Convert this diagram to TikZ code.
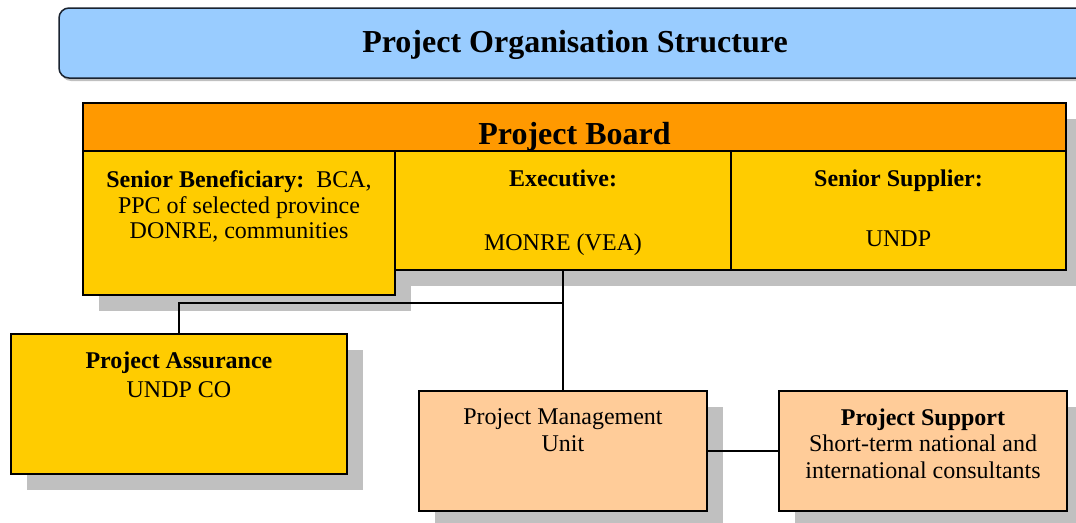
\documentclass[tikz,border=0pt]{standalone}
\usepackage{fontspec}
\setmainfont{Liberation Serif}
\definecolor{titleblue}{HTML}{99CCFF}
\definecolor{boardorange}{HTML}{FF9900}
\definecolor{gold}{HTML}{FFCC00}
\definecolor{peach}{HTML}{FFCC99}
\definecolor{shade}{HTML}{C0C0C0}
\definecolor{titleedge}{HTML}{1A2330}
\begin{document}
\begin{tikzpicture}[x=1pt,y=-1pt,
  box/.style={draw=black, line width=1.5pt, rectangle, inner sep=0pt, outer sep=0pt},
  shd/.style={fill=shade, draw=none},
  txt/.style={align=center, inner sep=0pt, font=\fontsize{24}{#1}\selectfont},
  txt/.default=27,
  bigtxt/.style={inner sep=0pt, font=\fontsize{32}{38}\selectfont\bfseries},
  link/.style={draw=black, line width=1.6pt}]
\clip (0,0) rectangle (1076,522);
\fill[white] (0,0) rectangle (1076,522);
% shadows
\fill[shd, rounded corners=10pt] (61,10) rectangle (1110,81);
\fill[shd] (99,119) rectangle (1082,286);
\fill[shd] (99,167) rectangle (411,311);
\fill[shd] (27,350) rectangle (363,490);
\fill[shd] (435,407) rectangle (723,527);
\fill[shd] (795,407) rectangle (1083,527);
% title
\node[box, draw=titleedge, fill=titleblue, rounded corners=10pt, minimum width=1050pt, minimum height=70pt] (title) at (584,43) {};
\node[bigtxt] (titletext) at (575,45) {Project Organisation Structure};
% board
\node[box, fill=boardorange, minimum width=983pt, minimum height=48pt] (board) at (574.5,127) {};
\node[bigtxt] (boardtext) at (574.5,136.5) {Project Board};
\node[box, fill=gold, minimum width=312pt, minimum height=144pt] (sb) at (239,223) {};
\node[box, fill=gold, minimum width=336pt, minimum height=119pt] (exec) at (563,210.5) {};
\node[box, fill=gold, minimum width=335pt, minimum height=119pt] (sup) at (898.5,210.5) {};
\node[txt=25.5] (sbtext) at (239,206.5) {\textbf{Senior Beneficiary:}\ \ BCA,\\PPC of selected province\\DONRE, communities};
\node[txt=32] (exectext) at (563,213) {\textbf{Executive:}\\[32pt]MONRE (VEA)};
\node[txt=30] (suptext) at (898.5,208) {\textbf{Senior Supplier:}\\[30pt]UNDP};
% lower boxes
\node[box, fill=gold, minimum width=336pt, minimum height=140pt] (pa) at (179,404) {};
\node[txt=29] (patext) at (179,375) {\textbf{Project Assurance}\\UNDP CO};
\node[box, fill=peach, minimum width=288pt, minimum height=120pt] (pmu) at (563,451) {};
\node[txt=27] (pmutext) at (563,430) {Project Management\\Unit};
\node[box, fill=peach, minimum width=288pt, minimum height=120pt] (ps) at (923,451) {};
\node[txt=26.5] (pstext) at (923,443.5) {\textbf{Project Support}\\Short-term national and\\international consultants};
% connectors
\coordinate (j) at (563,303);
\draw[link] (exec.south) -- (pmu.north);
\draw[link] (pa.north) |- (j);
\draw[link] (pmu.east) -- (ps.west);
\end{tikzpicture}
\end{document}
